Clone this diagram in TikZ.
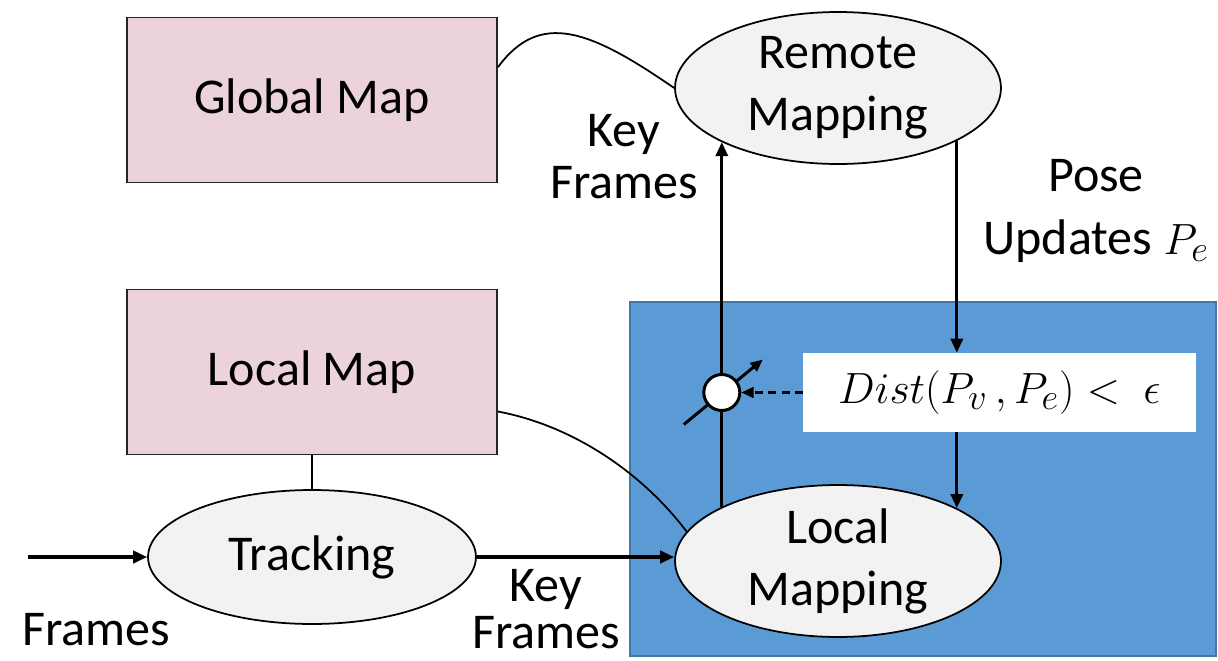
\documentclass[tikz,border=0pt]{standalone}
\usepackage{fontspec}
\setmainfont{Carlito}
\usepackage{tikz}
\usepackage{xcolor}
\usetikzlibrary{arrows.meta,positioning,shapes.geometric}
\definecolor{mapPink}{RGB}{235,210,221}
\definecolor{nodeGray}{RGB}{242,242,242}
\definecolor{regionBlue}{RGB}{91,155,213}
\definecolor{regionEdge}{RGB}{66,118,166}

\begin{document}
\begin{tikzpicture}[
  x=0.02cm, y=-0.02cm,
  every node/.style={font=\fontsize{28.5}{35.3}\selectfont},
  mapbox/.style={draw=black!85,fill=mapPink,line width=1.1pt,minimum width=7.4cm,minimum height=3.3cm,inner sep=0pt},
  procnode/.style={ellipse,draw=black,fill=nodeGray,line width=1pt,minimum width=6.52cm,minimum height=3.04cm,inner sep=-4pt,align=center},
  checkbox/.style={fill=white,minimum width=7.86cm,minimum height=1.58cm,inner sep=0pt},
  swnode/.style={circle,draw=black,fill=white,line width=1.7pt,minimum size=0.72cm,inner sep=0pt},
  flow/.style={-{Triangle[length=8pt,width=7pt]},line width=1.9pt},
  upd/.style={-{Triangle[length=8pt,width=7pt]},line width=1.6pt},
  link/.style={line width=1pt},
  lbl/.style={align=center,inner sep=0pt}
]
  \useasboundingbox (0,0) rectangle (1218,660);

  % Local side of the system.
  \fill[regionBlue,draw=regionEdge,line width=0.6pt] (630,302) rectangle (1216,656);

  % Maps and processes.
  \node[mapbox] (gmap) at (312,100) {Global Map};
  \node[mapbox] (lmap) at (312,372) {Local Map};
  \node[procnode] (remmap) at (838,88) {Remote\\Mapping};
  \node[procnode] (locmap) at (838,561) {Local\\Mapping};
  \node[procnode,minimum width=6.56cm,minimum height=2.68cm] (tracking) at (312,557) {Tracking};
  \node[checkbox] (dist) at (999.5,392.5) {$Dist(P_v\,,P_e) <\ \epsilon$};

  \coordinate (framesin) at (28,557);

  % Map links.
  \draw[link] (gmap.10) .. controls (540,10) and (590,30) .. (remmap.west);
  \draw[link] (lmap.-12) .. controls (570,425) and (640,470) .. (locmap.169);
  \draw[link] (lmap.south) -- (tracking.north);

  % Frame flow.
  \draw[flow] (framesin) -- (tracking.west);
  \draw[flow] (tracking.east) -- (locmap.west |- tracking.east);

  % Key frames up, pose updates down.
  \draw[upd] (locmap.155.6) -- (remmap.-155.6);
  \draw[upd] (remmap.-24.4) -- (remmap.-24.4 |- dist.north);
  \draw[upd] (dist.south -| locmap.24.4) -- (locmap.24.4);

  % Switch gated by the distance check.
  \coordinate (swc) at (locmap.155.6 |- dist.west);
  \coordinate (swlow) at ([shift={(-38,32)}]swc);
  \coordinate (swhigh) at ([shift={(41,-33)}]swc);
  \draw[-{Triangle[length=7pt,width=6pt]},line width=1.7pt] (swlow) -- (swhigh);
  \node[swnode] (switch) at (swc) {};
  \draw[-{Triangle[length=7pt,width=6pt]},line width=1.5pt,dash pattern=on 4.5pt off 3pt] (dist.west) -- (switch.east);

  % Labels.
  \node[lbl,font=\fontsize{28.5}{29.5}\selectfont] (kfup) at (624,157) {Key\\Frames};
  \node[lbl,font=\fontsize{28.5}{36}\selectfont] (poselbl) at (1096,211) {Pose\\Updates $P_e$};
  \node[lbl] (frameslbl) at (96,630) {Frames};
  \node[lbl,font=\fontsize{28.5}{27}\selectfont] (kflow) at (546,609) {Key\\Frames};
\end{tikzpicture}
\end{document}
